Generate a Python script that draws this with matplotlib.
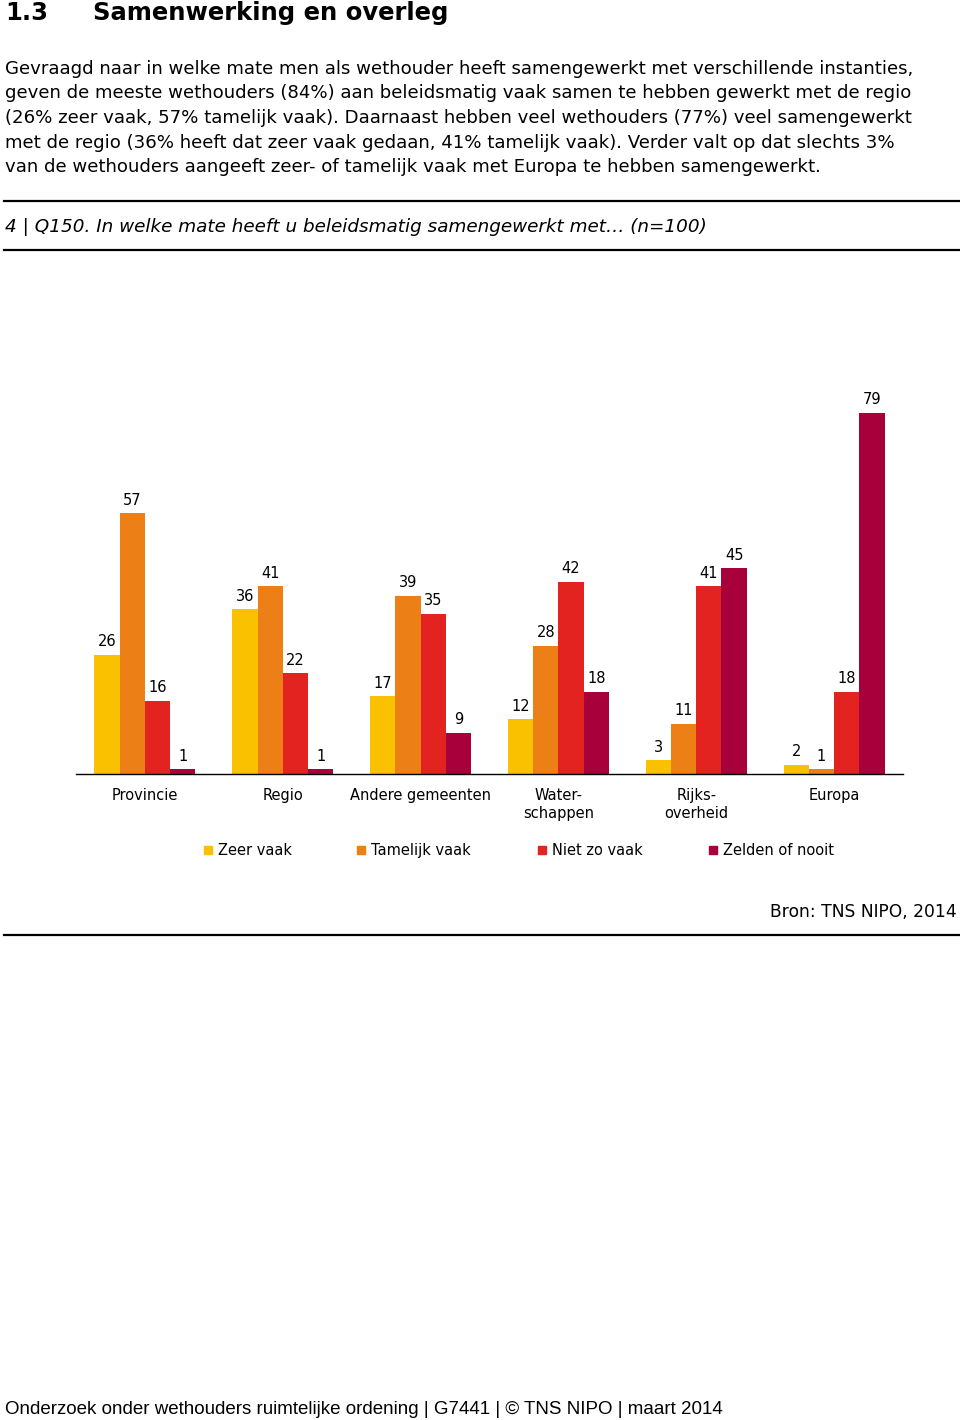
import matplotlib.pyplot as plt
import numpy as np
from matplotlib.lines import Line2D

plt.rcParams['font.family'] = ['DejaVu Sans']

categories = ['Provincie', 'Regio', 'Andere gemeenten', 'Water-\nschappen',
              'Rijks-\noverheid', 'Europa']
series_names = ['Zeer vaak', 'Tamelijk vaak', 'Niet zo vaak', 'Zelden of nooit']
zeer_vaak = [26, 36, 17, 12, 3, 2]
tamelijk_vaak = [57, 41, 39, 28, 11, 1]
niet_zo_vaak = [16, 22, 35, 42, 41, 18]
zelden_of_nooit = [1, 1, 9, 18, 45, 79]

colors = ['#F9C100', '#EC7F16', '#E2231F', '#A8003A']

W, H = 960, 1420
fig = plt.figure(figsize=(W / 100, H / 100), dpi=100)


def fx(x):
    return x / W


def fy(y):
    return 1 - y / H


def hline(y, x0=4, x1=960, lw=1.6):
    fig.add_artist(Line2D([fx(x0), fx(x1)], [fy(y), fy(y)], color='black', lw=lw))


# header
fig.text(fx(5), fy(13), '1.3', fontsize=17.5, fontweight='bold', va='center')
fig.text(fx(93), fy(13), 'Samenwerking en overleg', fontsize=17.5, fontweight='bold', va='center')

body = [
    'Gevraagd naar in welke mate men als wethouder heeft samengewerkt met verschillende instanties,',
    'geven de meeste wethouders (84%) aan beleidsmatig vaak samen te hebben gewerkt met de regio',
    '(26% zeer vaak, 57% tamelijk vaak). Daarnaast hebben veel wethouders (77%) veel samengewerkt',
    'met de regio (36% heeft dat zeer vaak gedaan, 41% tamelijk vaak). Verder valt op dat slechts 3%',
    'van de wethouders aangeeft zeer- of tamelijk vaak met Europa te hebben samengewerkt.',
]
for i, line in enumerate(body):
    fig.text(fx(5), fy(69 + i * 24.5), line, fontsize=13.1, va='center')

hline(201)
fig.text(fx(5), fy(227), '4 | Q150. In welke mate heeft u beleidsmatig samengewerkt met\u2026 (n=100)',
         fontsize=13.2, style='italic', va='center')
hline(250)

# chart
ax = fig.add_axes([fx(76), fy(774), fx(903) - fx(76), (774 - 408) / H])
values = [zeer_vaak, tamelijk_vaak, niet_zo_vaak, zelden_of_nooit]
x = np.arange(len(categories))
bw = 0.183
for k, (vals, name, c) in enumerate(zip(values, series_names, colors)):
    pos = x + (k - 1.5) * bw
    bars = ax.bar(pos, vals, width=bw, color=c, label=name)
    for b, v in zip(bars, vals):
        ax.annotate(str(v), (b.get_x() + b.get_width() / 2, v), xytext=(0, 4),
                    textcoords='offset points', ha='center', va='bottom', fontsize=10.5)

ax.set_xlim(-0.5, len(categories) - 0.5)
ax.set_ylim(0, 80)
for s in ['top', 'right', 'left']:
    ax.spines[s].set_visible(False)
ax.spines['bottom'].set_linewidth(1.0)
ax.set_yticks([])
ax.set_xticks(x)
ax.set_xticklabels(categories, fontsize=10.5, linespacing=1.3, va='top')
ax.tick_params(axis='x', length=0, pad=10)

# legend: one entry per slot, top-anchored so the labels share a baseline
legend_x = [203, 356, 537, 708]
for name, c, lx in zip(series_names, colors, legend_x):
    h = Line2D([], [], marker='s', linestyle='none', markersize=6, color=c)
    fig.legend([h], [name], loc='upper left', bbox_to_anchor=(fx(lx), fy(843)),
               frameon=False, fontsize=10.5, handlelength=0.7, handletextpad=0.3,
               borderpad=0, borderaxespad=0)

fig.text(fx(957), fy(912), 'Bron: TNS NIPO, 2014', fontsize=12.3, ha='right', va='center')
hline(935)

fig.text(fx(5), fy(1410), 'Onderzoek onder wethouders ruimtelijke ordening | G7441 | \u00a9 TNS NIPO | maart 2014',
         fontsize=13.5, va='center', family=['Liberation Sans'])

fig.savefig('out.png', dpi=100)
